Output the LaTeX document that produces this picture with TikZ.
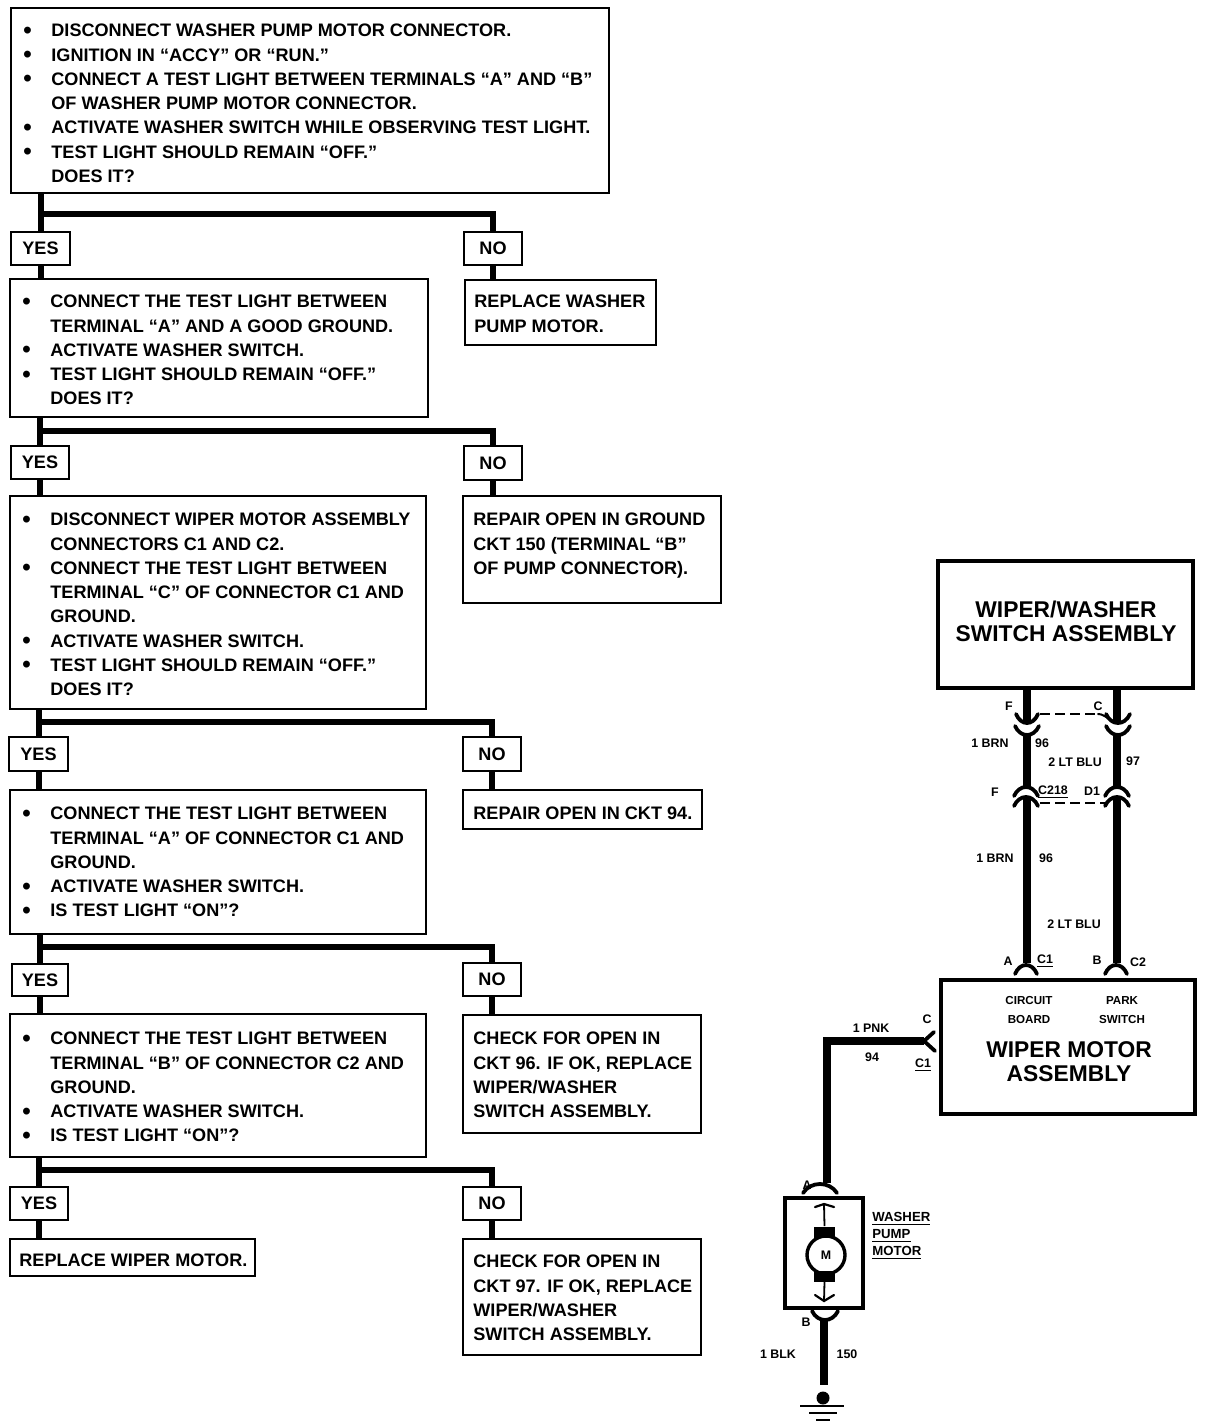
\documentclass[tikz,border=0pt]{standalone}
\usepackage{fontspec}
\setmainfont{Liberation Sans}
\usetikzlibrary{calc}
\tikzset{
 x=.5pt,y=-.5pt,
 flowbox/.style={draw=black,line width=1pt,inner sep=0pt,anchor=center},
 flowtext/.style={inner sep=0pt,anchor=north west,align=left,font=\flowfont},
 tagbox/.style={draw=black,line width=1pt,inner sep=0pt,font=\flowfont,anchor=center},
 flow/.style={line width=3pt,draw=black},
 wire/.style={line width=3.9pt,draw=black},
 cupline/.style={line width=1.9pt,draw=black,line cap=round},
 thin wire/.style={line width=.9pt,draw=black},
 dashline/.style={line width=.8pt,draw=black,dash pattern=on 5pt off 2.5pt},
 lab/.style={font=\labfont,inner sep=0pt,anchor=center},
 bigt/.style={font=\bigfont,align=center,inner sep=0pt,anchor=center},
 smallt/.style={font=\smfont,align=center,inner sep=0pt,anchor=center},
}
\newcommand{\flowfont}{\fontsize{9.05}{12.13}\selectfont\bfseries}
\newcommand{\labfont}{\fontsize{6.2}{7}\selectfont\bfseries}
\newcommand{\smfont}{\fontsize{5.8}{9.3}\selectfont\bfseries}
\newcommand{\bigfont}{\fontsize{11.4}{12}\selectfont\bfseries}
\newcommand{\bul}[1]{\makebox[14pt][l]{\smash{\raisebox{-.7pt}{\fontsize{12}{12}\selectfont\textbullet}}}#1}
\newcommand{\cnt}[1]{\hspace*{14pt}#1}
% name, x1,y1,x2,y2, pad(px), centre y of first line, text
\newcommand{\fbx}[8]{%
 \pgfmathsetmacro{\cxx}{(#2+#4)/2}\pgfmathsetmacro{\cyy}{(#3+#5)/2}%
 \pgfmathsetmacro{\wtx}{(#4-#2)*.5}\pgfmathsetmacro{\hhh}{(#5-#3)*.5}%
 \pgfmathsetmacro{\txx}{#2+#6}\pgfmathsetmacro{\tyy}{#7-6.2}%
 \node[flowbox,minimum width=\wtx pt,minimum height=\hhh pt] (#1) at (\cxx,\cyy) {};
 \node[flowtext] (#1t) at (\txx,\tyy) {#8};}
\newcommand{\tbx}[6]{%
 \pgfmathsetmacro{\cxx}{(#2+#4)/2}\pgfmathsetmacro{\cyy}{(#3+#5)/2}%
 \pgfmathsetmacro{\wtx}{(#4-#2)*.5}\pgfmathsetmacro{\hhh}{(#5-#3)*.5}%
 \node[tagbox,minimum width=\wtx pt,minimum height=\hhh pt] (#1) at (\cxx,\cyy) {#6};}
% branch: parent, yes, no, y of bar, yes child, no child
\newcommand{\branch}[6]{%
 \draw[flow] (#1.south -| #2.north) -- (#2.north);
 \draw[flow] (#2.north |- 0,#4) -- (#3.north |- 0,#4) -- (#3.north);
 \draw[flow] (#2.south) -- (#2.south |- #5.north);
 \draw[flow] (#3.south) -- (#3.south |- #6.north);}
\newcommand{\cupc}[3]{\draw[cupline] (#1-#3,#2-9) .. controls (#1-#3*.55,#2+3) and (#1+#3*.55,#2+3) .. (#1+#3,#2-9);}
\newcommand{\archc}[3]{\draw[cupline] (#1-#3,#2+9) .. controls (#1-#3*.55,#2-3) and (#1+#3*.55,#2-3) .. (#1+#3,#2+9);}
\begin{document}
\begin{tikzpicture}
\useasboundingbox (0,0) rectangle (1216,1428);
\fbx{q1}{11}{8}{609}{193}{12}{30}{\bul{DISCONNECT WASHER PUMP MOTOR CONNECTOR.}\\\bul{IGNITION IN “ACCY” OR “RUN.”}\\\bul{CONNECT A TEST LIGHT BETWEEN TERMINALS “A” AND “B”}\\\cnt{OF WASHER PUMP MOTOR CONNECTOR.}\\\bul{ACTIVATE WASHER SWITCH WHILE OBSERVING TEST LIGHT.}\\\bul{TEST LIGHT SHOULD REMAIN “OFF.”}\\\cnt{DOES IT?}}
\tbx{y1}{11}{232}{70}{265}{YES}
\tbx{n1}{464}{232}{522}{265}{NO}
\fbx{q2}{10}{279}{428}{417}{12}{301}{\bul{CONNECT THE TEST LIGHT BETWEEN}\\\cnt{TERMINAL “A” AND A GOOD GROUND.}\\\bul{ACTIVATE WASHER SWITCH.}\\\bul{TEST LIGHT SHOULD REMAIN “OFF.”}\\\cnt{DOES IT?}}
\fbx{r1}{465}{280}{656}{345}{9}{301}{REPLACE WASHER\\PUMP MOTOR.}
\tbx{y2}{11}{446}{69}{479}{YES}
\tbx{n2}{464}{446}{522}{480}{NO}
\fbx{q3}{10}{496}{426}{709}{12}{519}{\bul{DISCONNECT WIPER MOTOR ASSEMBLY}\\\cnt{CONNECTORS C1 AND C2.}\\\bul{CONNECT THE TEST LIGHT BETWEEN}\\\cnt{TERMINAL “C” OF CONNECTOR C1 AND}\\\cnt{GROUND.}\\\bul{ACTIVATE WASHER SWITCH.}\\\bul{TEST LIGHT SHOULD REMAIN “OFF.”}\\\cnt{DOES IT?}}
\fbx{r2}{463}{496}{721}{603}{10}{519}{REPAIR OPEN IN GROUND\\CKT 150 (TERMINAL “B”\\OF PUMP CONNECTOR).}
\tbx{y3}{9}{737}{68}{771}{YES}
\tbx{n3}{463}{737}{521}{771}{NO}
\fbx{q4}{10}{790}{426}{934}{12}{813}{\bul{CONNECT THE TEST LIGHT BETWEEN}\\\cnt{TERMINAL “A” OF CONNECTOR C1 AND}\\\cnt{GROUND.}\\\bul{ACTIVATE WASHER SWITCH.}\\\bul{IS TEST LIGHT “ON”?}}
\fbx{r3}{463}{790}{702}{829}{10}{813}{REPAIR OPEN IN CKT 94.}
\tbx{y4}{12}{964}{68}{996}{YES}
\tbx{n4}{463}{963}{521}{996}{NO}
\fbx{q5}{10}{1014}{426}{1157}{12}{1038}{\bul{CONNECT THE TEST LIGHT BETWEEN}\\\cnt{TERMINAL “B” OF CONNECTOR C2 AND}\\\cnt{GROUND.}\\\bul{ACTIVATE WASHER SWITCH.}\\\bul{IS TEST LIGHT “ON”?}}
\fbx{r4}{463}{1015}{701}{1133}{10}{1038}{CHECK FOR OPEN IN\\CKT 96. IF OK, REPLACE\\WIPER/WASHER\\SWITCH ASSEMBLY.}
\tbx{y5}{10}{1187}{68}{1220}{YES}
\tbx{n5}{463}{1187}{521}{1220}{NO}
\fbx{r5}{10}{1239}{255}{1276}{9}{1260}{REPLACE WIPER MOTOR.}
\fbx{r6}{463}{1239}{701}{1355}{10}{1261}{CHECK FOR OPEN IN\\CKT 97. IF OK, REPLACE\\WIPER/WASHER\\SWITCH ASSEMBLY.}
\branch{q1}{y1}{n1}{214}{q2}{r1}
\branch{q2}{y2}{n2}{431}{q3}{r2}
\branch{q3}{y3}{n3}{722}{q4}{r3}
\branch{q4}{y4}{n4}{947}{q5}{r4}
\branch{q5}{y5}{n5}{1170}{r5}{r6}
% right side boxes
\node[draw=black,line width=1.9pt,minimum width=127.5pt,minimum height=63.5pt,inner sep=0pt] (sw) at (1065.5,624.5) {};
\node[bigt] (swt) at (1066,621) {WIPER/WASHER\\SWITCH ASSEMBLY};
\node[draw=black,line width=1.9pt,minimum width=127pt,minimum height=67pt,inner sep=0pt] (wm) at (1068,1047) {};
\node[bigt] (wmt) at (1069,1062) {WIPER MOTOR\\ASSEMBLY};
\node[smallt] (cb) at (1029,1010) {CIRCUIT\\BOARD};
\node[smallt] (ps) at (1122,1010) {PARK\\SWITCH};
% wires
\coordinate (la) at (1027,722); \coordinate (lb) at (1027,733);
\coordinate (lc) at (1027,787); \coordinate (ld) at (1027,796);
\coordinate (le) at (1027,963);
\coordinate (ra) at (1117,722); \coordinate (rb) at (1117,733);
\coordinate (rc) at (1117,787); \coordinate (rd) at (1117,796);
\coordinate (re) at (1117,963);
\draw[wire] (la |- sw.south) -- (la);
\draw[wire] (lb) -- (lc);
\draw[wire] (ld) -- (le);
\draw[wire] (ra |- sw.south) -- (ra);
\draw[wire] (rb) -- (rc);
\draw[wire] (rd) -- (re);
\cupc{1027}{723}{11}\cupc{1027}{735}{12}
\cupc{1118}{723}{12}\cupc{1118}{735}{12}
\archc{1026}{787}{12}\archc{1026}{797}{12}
\archc{1117}{787}{12}\archc{1117}{797}{12}
\archc{1026}{965}{11}\archc{1116}{965}{11}
\coordinate (dla) at (1040,714); \coordinate (dra) at (1098,714);
\draw[dashline] (dla) -- (dra);
\coordinate (dlb) at (1040,803); \coordinate (drb) at (1105,803);
\draw[dashline] (dlb) -- (drb);
\draw[cupline,line width=1pt] (dra) .. controls (1102,714) and (1104,716) .. (1108,718);
% pump wire
\coordinate (yj) at (924,1041); \coordinate (cn) at (827,1041); \coordinate (ma) at (827,1183);
\draw[wire,line join=miter] (yj) -- (cn) -- (ma);
\draw[cupline] (934,1032) -- (yj) -- (935,1051);
\archc{820}{1184}{17}
% motor
\node[draw=black,line width=2pt,minimum width=39pt,minimum height=55pt,inner sep=0pt] (mb) at (824,1253) {};
\node[draw=black,circle,line width=1.7pt,minimum size=19pt,inner sep=0pt,font=\labfont] (mot) at (826,1255) {M};
\node[fill=black,minimum width=10.5pt,minimum height=5.5pt,inner sep=0pt] (bt) at (824.5,1232) {};
\node[fill=black,minimum width=10.5pt,minimum height=5.5pt,inner sep=0pt] (bb) at (824.5,1276) {};
\coordinate (it) at (824,1204); \coordinate (ib) at (824,1301);
\draw[thin wire] (it) -- (bt.north);
\draw[thin wire] (bb.south) -- (ib);
\draw[cupline,line width=1.1pt] (815,1207) -- (it) -- (834,1207);
\draw[cupline,line width=1.1pt] (815,1295) -- (ib) -- (834,1295);
\cupc{825}{1320}{13}
\coordinate (mo) at (824,1318); \coordinate (gt) at (824,1385);
\draw[wire] (mo) -- (gt);
\node[fill=black,circle,minimum size=6.5pt,inner sep=0pt] (gd) at (823,1398) {};
\draw[line width=1pt] (800,1406) -- (844,1406);
\draw[line width=1pt] (809,1413) -- (837,1413);
\draw[line width=1pt] (816,1420) -- (830,1420);
% labels
\node[lab] (l1) at (1009,706) {F};
\node[lab] (l2) at (1098,706) {C};
\node[lab] (l3) at (990,743) {1 BRN};
\node[lab] (l4) at (1042,743) {96};
\node[lab] (l5) at (1075,762) {2 LT BLU};
\node[lab] (l6) at (1133,761) {97};
\node[lab] (l7) at (995,792) {F};
\node[lab] (l8) at (1053,792) {\underline{C218}};
\node[lab] (l9) at (1092,791) {D1};
\node[lab] (l10) at (995,858) {1 BRN};
\node[lab] (l11) at (1046,858) {96};
\node[lab] (l12) at (1074,924) {2 LT BLU};
\node[lab] (l13) at (1008,961) {A};
\node[lab] (l14) at (1045,961) {\underline{C1}};
\node[lab] (l15) at (1097,960) {B};
\node[lab] (l16) at (1138,962) {C2};
\node[lab] (l17) at (871,1028) {1 PNK};
\node[lab] (l18) at (927,1019) {C};
\node[lab] (l19) at (872,1057) {94};
\node[lab] (l20) at (923,1065) {\underline{C1}};
\node[lab] (l21) at (807,1185) {A};
\node[lab] (l22) at (806,1322) {B};
\node[lab] (l23) at (778,1354) {1 BLK};
\node[lab] (l24) at (847,1354) {150};
\node[smallt,align=left,anchor=north west,font=\fontsize{6.6}{8.5}\selectfont\bfseries] (l25) at (872,1212) {\underline{WASHER}\\\underline{PUMP}\\\underline{MOTOR}};
\end{tikzpicture}
\end{document}
